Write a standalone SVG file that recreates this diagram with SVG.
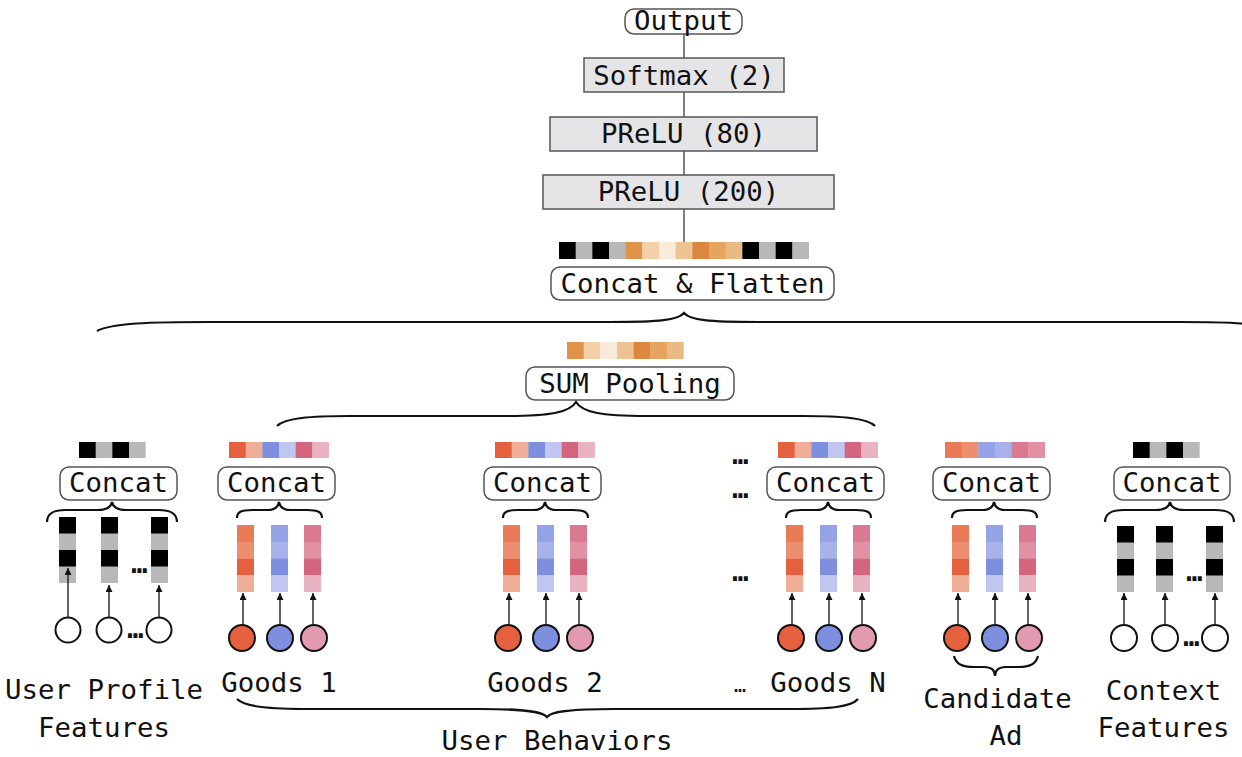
<svg xmlns="http://www.w3.org/2000/svg" width="1242" height="757" viewBox="0 0 1242 757">
<style>
text{font-family:"DejaVu Sans Mono","Liberation Mono",monospace;font-size:27.4px;fill:#111;text-anchor:middle}
.dots{font-weight:bold;font-size:27px;letter-spacing:-1px}
.rb{fill:#fff;stroke:#555;stroke-width:1.5}
.gb{fill:#e5e5e8;stroke:#555;stroke-width:1.5}
.br{fill:none;stroke:#111;stroke-width:2.2}
.ln{stroke:#555;stroke-width:1.5;fill:none}
.ar{stroke:#222;stroke-width:1.4;fill:none;marker-end:url(#ah)}
.ci{stroke:#111;stroke-width:2}
.k{fill:#000}.g{fill:#b8b8b8}
</style>
<defs>
<marker id="ah" viewBox="0 0 10 10" refX="10" refY="5" markerWidth="9" markerHeight="7" orient="auto" markerUnits="userSpaceOnUse"><path d="M0,0 L10,5 L0,10 z" fill="#111"/></marker>
</defs>
<rect width="1242" height="757" fill="#fff"/>

<g id="output">
<rect class="rb" x="625" y="9" width="117" height="25" rx="9"/>
<text x="683.5" y="29.5">Output</text>
</g>
<g id="softmax">
<rect class="gb" x="584" y="58" width="200" height="34"/>
<text x="684" y="85">Softmax (2)</text>
</g>
<g id="prelu80">
<rect class="gb" x="550" y="117" width="267" height="34"/>
<text x="683.5" y="143">PReLU (80)</text>
</g>
<g id="prelu200">
<rect class="gb" x="543" y="175" width="291" height="34"/>
<text x="688.5" y="201">PReLU (200)</text>
</g>

<g id="concat-flatten">
<rect class="k" x="559" y="242" width="17" height="17"/>
<rect class="g" x="575.67" y="242" width="17" height="17"/>
<rect class="k" x="592.33" y="242" width="17" height="17"/>
<rect class="g" x="609" y="242" width="17" height="17"/>
<rect fill="#e0944a" x="625.67" y="242" width="17" height="17"/>
<rect fill="#f3d0a8" x="642.33" y="242" width="17" height="17"/>
<rect fill="#faeadb" x="659" y="242" width="17" height="17"/>
<rect fill="#ecc391" x="675.67" y="242" width="17" height="17"/>
<rect fill="#dd8640" x="692.33" y="242" width="17" height="17"/>
<rect fill="#e5a55d" x="709" y="242" width="17" height="17"/>
<rect fill="#eaba84" x="725.67" y="242" width="17" height="17"/>
<rect class="k" x="742.33" y="242" width="17" height="17"/>
<rect class="g" x="759" y="242" width="17" height="17"/>
<rect class="k" x="775.67" y="242" width="17" height="17"/>
<rect class="g" x="792.33" y="242" width="16.67" height="17"/>
<rect class="rb" x="551" y="267" width="283" height="33" rx="9"/>
<text x="692.5" y="293">Concat &amp; Flatten</text>
</g>

<g id="sum-pooling">
<rect fill="#e0944a" x="567" y="342" width="17" height="17"/>
<rect fill="#f3d0a8" x="583.67" y="342" width="17" height="17"/>
<rect fill="#faeadb" x="600.33" y="342" width="17" height="17"/>
<rect fill="#ecc391" x="617" y="342" width="17" height="17"/>
<rect fill="#dd8640" x="633.67" y="342" width="17" height="17"/>
<rect fill="#e5a55d" x="650.33" y="342" width="17" height="17"/>
<rect fill="#eaba84" x="667" y="342" width="16.67" height="17"/>
<rect class="rb" x="526" y="367" width="208" height="33" rx="9"/>
<text x="630" y="393">SUM Pooling</text>
</g>

<g id="user-profile">
<rect class="k" x="79" y="442" width="17" height="16"/>
<rect class="g" x="95.67" y="442" width="17" height="16"/>
<rect class="k" x="112.33" y="442" width="17" height="16"/>
<rect class="g" x="129" y="442" width="16.67" height="16"/>
<rect class="rb" x="60" y="467" width="117" height="33" rx="9"/>
<text x="118.5" y="492">Concat</text>
<rect class="k" x="59" y="517" width="17" height="17"/><rect class="g" x="59" y="533.5" width="17" height="17"/><rect class="k" x="59" y="550" width="17" height="17"/><rect class="g" x="59" y="566.5" width="17" height="16.5"/>
<rect class="k" x="101" y="517" width="17" height="17"/><rect class="g" x="101" y="533.5" width="17" height="17"/><rect class="k" x="101" y="550" width="17" height="17"/><rect class="g" x="101" y="566.5" width="17" height="16.5"/>
<rect class="k" x="151" y="517" width="17" height="17"/><rect class="g" x="151" y="533.5" width="17" height="17"/><rect class="k" x="151" y="550" width="17" height="17"/><rect class="g" x="151" y="566.5" width="17" height="16.5"/>
<text class="dots" x="139" y="573">…</text>
<circle class="ci" cx="68" cy="630" r="12.5" fill="#fff"/>
<circle class="ci" cx="109" cy="630" r="12.5" fill="#fff"/>
<circle class="ci" cx="159" cy="630" r="12.5" fill="#fff"/>
<text class="dots" x="135" y="638">…</text>
<text x="104" y="699">User Profile</text>
<text x="104" y="737">Features</text>
</g>

<g id="goods1">
<rect fill="#e5603e" x="229" y="442" width="17" height="16"/>
<rect fill="#f0ad98" x="245.67" y="442" width="17" height="16"/>
<rect fill="#7f8fe0" x="262.33" y="442" width="17" height="16"/>
<rect fill="#c0c6f0" x="279" y="442" width="17" height="16"/>
<rect fill="#d4657f" x="295.67" y="442" width="17" height="16"/>
<rect fill="#e8b2c0" x="312.33" y="442" width="16.67" height="16"/>
<rect class="rb" x="218" y="467" width="117" height="33" rx="9"/>
<text x="276.5" y="492">Concat</text>
<rect fill="#e87a55" x="237" y="525" width="17" height="17"/><rect fill="#ec8f70" x="237" y="541.75" width="17" height="17"/><rect fill="#e5603e" x="237" y="558.5" width="17" height="17"/><rect fill="#f0ad98" x="237" y="575.25" width="17" height="16.75"/>
<rect fill="#94a2e6" x="271" y="525" width="17" height="17"/><rect fill="#a8b2ea" x="271" y="541.75" width="17" height="17"/><rect fill="#7f8fe0" x="271" y="558.5" width="17" height="17"/><rect fill="#c0c6f0" x="271" y="575.25" width="17" height="16.75"/>
<rect fill="#d97a92" x="304" y="525" width="17" height="17"/><rect fill="#e290a4" x="304" y="541.75" width="17" height="17"/><rect fill="#d4657f" x="304" y="558.5" width="17" height="17"/><rect fill="#e8b2c0" x="304" y="575.25" width="17" height="16.75"/>
<circle class="ci" cx="242" cy="638" r="13" fill="#e5603e"/>
<circle class="ci" cx="280" cy="638" r="13" fill="#7f8fe0"/>
<circle class="ci" cx="314" cy="638" r="13" fill="#e29aae"/>
<text x="279" y="692">Goods 1</text>
</g>

<g id="goods2">
<rect fill="#e5603e" x="495" y="442" width="17" height="16"/>
<rect fill="#f0ad98" x="511.67" y="442" width="17" height="16"/>
<rect fill="#7f8fe0" x="528.33" y="442" width="17" height="16"/>
<rect fill="#c0c6f0" x="545" y="442" width="17" height="16"/>
<rect fill="#d4657f" x="561.67" y="442" width="17" height="16"/>
<rect fill="#e8b2c0" x="578.33" y="442" width="16.67" height="16"/>
<rect class="rb" x="484" y="467" width="117" height="33" rx="9"/>
<text x="542.5" y="492">Concat</text>
<rect fill="#e87a55" x="503" y="525" width="17" height="17"/><rect fill="#ec8f70" x="503" y="541.75" width="17" height="17"/><rect fill="#e5603e" x="503" y="558.5" width="17" height="17"/><rect fill="#f0ad98" x="503" y="575.25" width="17" height="16.75"/>
<rect fill="#94a2e6" x="537" y="525" width="17" height="17"/><rect fill="#a8b2ea" x="537" y="541.75" width="17" height="17"/><rect fill="#7f8fe0" x="537" y="558.5" width="17" height="17"/><rect fill="#c0c6f0" x="537" y="575.25" width="17" height="16.75"/>
<rect fill="#d97a92" x="570" y="525" width="17" height="17"/><rect fill="#e290a4" x="570" y="541.75" width="17" height="17"/><rect fill="#d4657f" x="570" y="558.5" width="17" height="17"/><rect fill="#e8b2c0" x="570" y="575.25" width="17" height="16.75"/>
<circle class="ci" cx="508" cy="638" r="13" fill="#e5603e"/>
<circle class="ci" cx="546" cy="638" r="13" fill="#7f8fe0"/>
<circle class="ci" cx="580" cy="638" r="13" fill="#e29aae"/>
<text x="545" y="692">Goods 2</text>
</g>

<g id="goodsN">
<text class="dots" x="740" y="464">…</text>
<text class="dots" x="740" y="498">…</text>
<text class="dots" x="740" y="581">…</text>
<rect fill="#e5603e" x="778" y="442" width="17" height="16"/>
<rect fill="#f0ad98" x="794.67" y="442" width="17" height="16"/>
<rect fill="#7f8fe0" x="811.33" y="442" width="17" height="16"/>
<rect fill="#c0c6f0" x="828" y="442" width="17" height="16"/>
<rect fill="#d4657f" x="844.67" y="442" width="17" height="16"/>
<rect fill="#e8b2c0" x="861.33" y="442" width="16.67" height="16"/>
<rect class="rb" x="767" y="467" width="117" height="33" rx="9"/>
<text x="825.5" y="492">Concat</text>
<rect fill="#e87a55" x="786" y="525" width="17" height="17"/><rect fill="#ec8f70" x="786" y="541.75" width="17" height="17"/><rect fill="#e5603e" x="786" y="558.5" width="17" height="17"/><rect fill="#f0ad98" x="786" y="575.25" width="17" height="16.75"/>
<rect fill="#94a2e6" x="820" y="525" width="17" height="17"/><rect fill="#a8b2ea" x="820" y="541.75" width="17" height="17"/><rect fill="#7f8fe0" x="820" y="558.5" width="17" height="17"/><rect fill="#c0c6f0" x="820" y="575.25" width="17" height="16.75"/>
<rect fill="#d97a92" x="853" y="525" width="17" height="17"/><rect fill="#e290a4" x="853" y="541.75" width="17" height="17"/><rect fill="#d4657f" x="853" y="558.5" width="17" height="17"/><rect fill="#e8b2c0" x="853" y="575.25" width="17" height="16.75"/>
<circle class="ci" cx="791" cy="638" r="13" fill="#e5603e"/>
<circle class="ci" cx="829" cy="638" r="13" fill="#7f8fe0"/>
<circle class="ci" cx="863" cy="638" r="13" fill="#e29aae"/>
<text x="740" y="692" style="font-size:20px">…</text>
<text x="828" y="692">Goods N</text>
</g>

<g id="user-behaviors">
<text x="557" y="750">User Behaviors</text>
</g>

<g id="candidate-ad">
<rect fill="#e87a55" x="945" y="442" width="17" height="16"/>
<rect fill="#ec8f70" x="961.67" y="442" width="17" height="16"/>
<rect fill="#94a2e6" x="978.33" y="442" width="17" height="16"/>
<rect fill="#a8b2ea" x="995" y="442" width="17" height="16"/>
<rect fill="#d97a92" x="1011.67" y="442" width="17" height="16"/>
<rect fill="#e290a4" x="1028.33" y="442" width="16.67" height="16"/>
<rect class="rb" x="933" y="467" width="117" height="33" rx="9"/>
<text x="991.5" y="492">Concat</text>
<rect fill="#e87a55" x="952" y="525" width="17" height="17"/><rect fill="#ec8f70" x="952" y="541.75" width="17" height="17"/><rect fill="#e5603e" x="952" y="558.5" width="17" height="17"/><rect fill="#f0ad98" x="952" y="575.25" width="17" height="16.75"/>
<rect fill="#94a2e6" x="986" y="525" width="17" height="17"/><rect fill="#a8b2ea" x="986" y="541.75" width="17" height="17"/><rect fill="#7f8fe0" x="986" y="558.5" width="17" height="17"/><rect fill="#c0c6f0" x="986" y="575.25" width="17" height="16.75"/>
<rect fill="#d97a92" x="1019" y="525" width="17" height="17"/><rect fill="#e290a4" x="1019" y="541.75" width="17" height="17"/><rect fill="#d4657f" x="1019" y="558.5" width="17" height="17"/><rect fill="#e8b2c0" x="1019" y="575.25" width="17" height="16.75"/>
<circle class="ci" cx="957" cy="638" r="13" fill="#e5603e"/>
<circle class="ci" cx="995" cy="638" r="13" fill="#7f8fe0"/>
<circle class="ci" cx="1029" cy="638" r="13" fill="#e29aae"/>
<text x="997.5" y="708">Candidate</text>
<text x="1006" y="745">Ad</text>
</g>

<g id="context">
<rect class="k" x="1133" y="442" width="17" height="16"/>
<rect class="g" x="1149.67" y="442" width="17" height="16"/>
<rect class="k" x="1166.33" y="442" width="17" height="16"/>
<rect class="g" x="1183" y="442" width="16.67" height="16"/>
<rect class="rb" x="1114" y="467" width="116" height="33" rx="9"/>
<text x="1172" y="492">Concat</text>
<rect class="k" x="1117" y="526" width="17" height="17"/><rect class="g" x="1117" y="542.5" width="17" height="17"/><rect class="k" x="1117" y="559" width="17" height="17"/><rect class="g" x="1117" y="575.5" width="17" height="16.5"/>
<rect class="k" x="1156" y="526" width="17" height="17"/><rect class="g" x="1156" y="542.5" width="17" height="17"/><rect class="k" x="1156" y="559" width="17" height="17"/><rect class="g" x="1156" y="575.5" width="17" height="16.5"/>
<rect class="k" x="1206" y="526" width="17" height="17"/><rect class="g" x="1206" y="542.5" width="17" height="17"/><rect class="k" x="1206" y="559" width="17" height="17"/><rect class="g" x="1206" y="575.5" width="17" height="16.5"/>
<text class="dots" x="1194" y="581">…</text>
<circle class="ci" cx="1124" cy="638" r="13" fill="#fff"/>
<circle class="ci" cx="1165" cy="638" r="13" fill="#fff"/>
<circle class="ci" cx="1215" cy="638" r="13" fill="#fff"/>
<text class="dots" x="1191" y="646">…</text>
<text x="1163.5" y="700">Context</text>
<text x="1163.5" y="737">Features</text>
</g>

<g id="connectors">
<line class="ln" x1="684" y1="34" x2="684" y2="58"/>
<line class="ln" x1="684" y1="92" x2="684" y2="117"/>
<line class="ln" x1="684" y1="151" x2="684" y2="175"/>
<line class="ln" x1="684" y1="209" x2="684" y2="242"/>
<path class="br" d="M97,331 C112,323 150,322 210,322 L610,322 C660,322 678,320 684,313 C690,320 708,322 758,322 L1180,322 C1230,322 1262,323 1277,331"/>
<path class="br" d="M277,426 C285,418 310,416 350,416 L505,416 C552,416 570,412 576,402 C582,412 600,416 647,416 L802,416 C842,416 867,418 875,426"/>
<path class="br" d="M237,699 C245,707 270,709 310,709 L480,709 C528,709 543,712 547,717 C551,712 566,709 614,709 L790,709 C830,709 851,707 858,699"/>
<path class="br" d="M954,656 C956,664 962,667 974,667 L984,667 C991,667 995,670 995,676 C995,670 999,667 1006,667 L1018,667 C1030,667 1036,664 1038,656"/>
<path class="br" d="M47,522 C47,514 52,510 66,510 L98,510 C107,510 111,507 112,502 C113,507 117,510 126,510 L158,510 C172,510 177,514 177,522"/>
<path class="br" d="M237,518 C237,512 241,510 252,510 L268,510 C275,510 278,507 279,502 C280,507 283,510 290,510 L307,510 C318,510 322,512 322,518"/>
<path class="br" d="M503,518 C503,512 507,510 518,510 L534,510 C541,510 544,507 545,502 C546,507 549,510 556,510 L573,510 C584,510 588,512 588,518"/>
<path class="br" d="M786,518 C786,512 790,510 801,510 L817,510 C824,510 827,507 828,502 C829,507 832,510 839,510 L856,510 C867,510 871,512 871,518"/>
<path class="br" d="M952,518 C952,512 956,510 967,510 L983,510 C990,510 993,507 994,502 C995,507 998,510 1005,510 L1022,510 C1033,510 1037,512 1037,518"/>
<path class="br" d="M1105,522 C1105,514 1110,510 1124,510 L1156,510 C1165,510 1169,507 1170,502 C1171,507 1175,510 1184,510 L1215,510 C1229,510 1234,514 1234,522"/>
<line class="ar" x1="68" y1="617.5" x2="68" y2="568"/>
<line class="ar" x1="109" y1="617.5" x2="109" y2="585"/>
<line class="ar" x1="159" y1="617.5" x2="159" y2="585"/>
<line class="ar" x1="243" y1="625" x2="243" y2="593"/>
<line class="ar" x1="280" y1="625" x2="280" y2="593"/>
<line class="ar" x1="313" y1="625" x2="313" y2="593"/>
<line class="ar" x1="509" y1="625" x2="509" y2="593"/>
<line class="ar" x1="546" y1="625" x2="546" y2="593"/>
<line class="ar" x1="579" y1="625" x2="579" y2="593"/>
<line class="ar" x1="792" y1="625" x2="792" y2="593"/>
<line class="ar" x1="829" y1="625" x2="829" y2="593"/>
<line class="ar" x1="862" y1="625" x2="862" y2="593"/>
<line class="ar" x1="958" y1="625" x2="958" y2="593"/>
<line class="ar" x1="995" y1="625" x2="995" y2="593"/>
<line class="ar" x1="1028" y1="625" x2="1028" y2="593"/>
<line class="ar" x1="1124" y1="625" x2="1124" y2="593"/>
<line class="ar" x1="1165" y1="625" x2="1165" y2="593"/>
<line class="ar" x1="1215" y1="625" x2="1215" y2="593"/>
</g>
</svg>
